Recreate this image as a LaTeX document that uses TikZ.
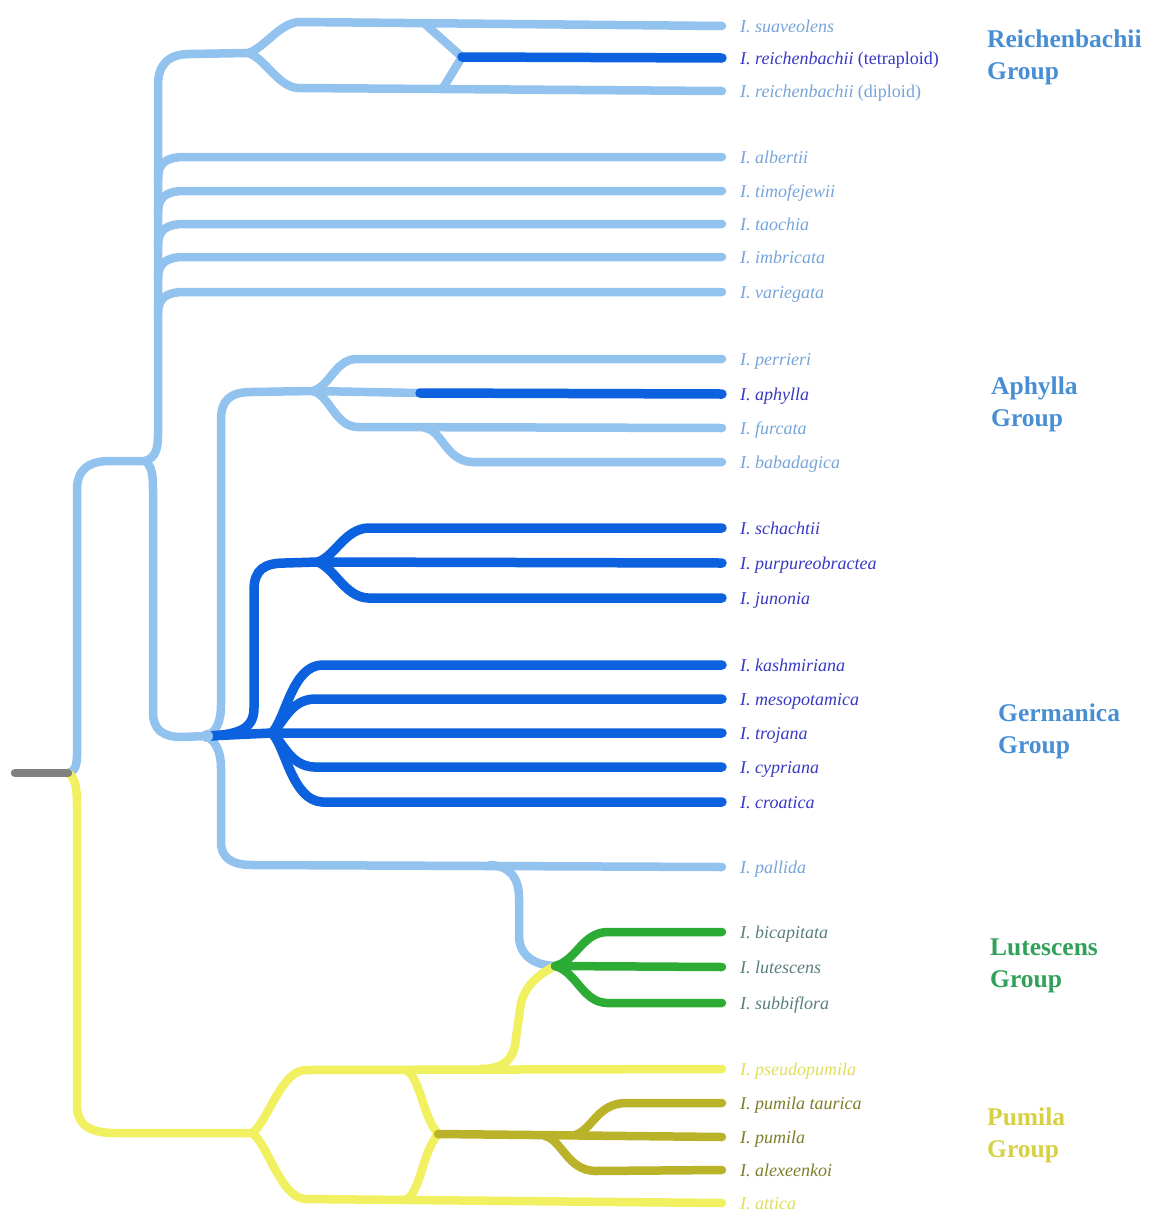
\documentclass[tikz,border=0pt]{standalone}
\usepackage{fontspec}
\setmainfont{Liberation Serif}
\definecolor{lbl}{RGB}{146,194,238}
\definecolor{dbl}{RGB}{12,98,222}
\definecolor{grn}{RGB}{44,172,52}
\definecolor{yel}{RGB}{240,240,96}
\definecolor{olv}{RGB}{186,178,40}
\definecolor{gry}{RGB}{128,128,128}
\definecolor{tlb}{RGB}{118,164,218}
\definecolor{tdb}{RGB}{56,56,196}
\definecolor{tgr}{RGB}{90,125,125}
\definecolor{tye}{RGB}{222,222,90}
\definecolor{tol}{RGB}{125,125,40}
\definecolor{gbl}{RGB}{72,142,212}
\definecolor{ggr}{RGB}{50,160,90}
\definecolor{gye}{RGB}{214,208,66}
\begin{document}
\begin{tikzpicture}[x=1pt,y=-1pt,
  br/.style={line width=8.5pt,line cap=round,line join=round},
  lb/.style={br,draw=lbl},
  db/.style={br,draw=dbl,line width=9.5pt},
  gr/.style={br,draw=grn},
  ye/.style={br,draw=yel},
  ol/.style={br,draw=olv},
  leaf/.style={anchor=base west,inner sep=0pt,font=\fontsize{18}{20}\selectfont\itshape},
  grp/.style={anchor=north west,align=left,inner sep=0pt,font=\fontsize{25.5}{32}\selectfont\bfseries}]
\useasboundingbox (0,0) rectangle (1150,1211);
% junctions
\coordinate (R0) at (15,773);
\coordinate (R) at (68,773);
\coordinate (A) at (145,461);
\coordinate (B) at (248,53);
\coordinate (T) at (462,57);
\coordinate (hu) at (425,24);
\coordinate (hl) at (443,88);
\coordinate (G) at (207,736);
\coordinate (AP) at (313,391);
\coordinate (ad) at (420,393);
\coordinate (bab) at (425,428);
\coordinate (S) at (318,562);
\coordinate (K) at (272,733);
\coordinate (pl) at (490,865);
\coordinate (L) at (555,966);
\coordinate (P1) at (252,1133);
\coordinate (P2) at (438,1134);
\coordinate (pu) at (405,1070);
\coordinate (pd) at (405,1200);
\coordinate (yl) at (480,1069);
\coordinate (tau) at (575,1135);
\coordinate (ale) at (545,1136);
% leaf ends
\foreach \i/\y in {1/26,2/58,3/91,4/157,5/191,6/224,7/257,8/292,9/359,10/394,11/428,12/462,
  13/528,14/563,15/598,16/665,17/699,18/733,19/767,20/802,21/867,22/932,23/967,24/1003,
  25/1069,26/1103,27/1137,28/1170,29/1203}
  \coordinate (e\i) at (722,\y);
% light blue
\draw[lb] (R) .. controls (78,771) and (77,760) .. (77,745) -- (77,490) .. controls (77,470) and (88,461) .. (110,461) -- (A);
\draw[lb] (A) .. controls (155,458) and (158,450) .. (158,435) -- (158,85) .. controls (158,65) and (168,54) .. (190,54) -- (B);
\draw[lb] (B) .. controls (265,48) and (280,22) .. (300,22) -- (e1);
\draw[lb] (B) .. controls (265,58) and (278,87) .. (298,88) -- (e3);
\draw[lb] (hu) -- (T);
\draw[lb] (hl) -- (T);
\foreach \i/\y in {4/157,5/191,6/224,7/257,8/292}
  \draw[lb] (158,\y+22) .. controls (158,\y+6) and (166,\y) .. (185,\y) -- (e\i);
\draw[lb] (A) .. controls (152,466) and (153,475) .. (153,490) -- (153,712) .. controls (153,730) and (163,737) .. (182,737) -- (G);
\draw[lb] (G) .. controls (216,732) and (221,722) .. (221,705) -- (221,420) .. controls (221,400) and (230,392) .. (252,392) -- (AP);
\draw[lb] (AP) .. controls (330,386) and (335,360) .. (356,359) -- (e9);
\draw[lb] (AP) -- (ad);
\draw[lb] (AP) .. controls (330,396) and (335,426) .. (357,427) -- (e11);
\draw[lb] (bab) .. controls (442,430) and (446,461) .. (472,462) -- (e12);
\draw[lb] (G) .. controls (216,742) and (221,752) .. (221,768) -- (221,842) .. controls (221,858) and (232,865) .. (252,865) -- (e21);
\draw[lb] (pl) .. controls (510,866) and (519,878) .. (519,898) -- (519,935) .. controls (519,955) and (533,965) .. (L);
% dark blue
\draw[db] (T) -- (e2);
\draw[db] (ad) -- (e10);
\draw[db] (G) -- (K) -- (e18);
\draw[db] (G) .. controls (240,735) and (254,728) .. (254,708) -- (254,590) .. controls (254,570) and (264,563) .. (285,563) -- (S);
\draw[db] (S) .. controls (335,556) and (345,529) .. (368,528) -- (e13);
\draw[db] (S) -- (e14);
\draw[db] (S) .. controls (335,569) and (345,597) .. (368,598) -- (e15);
\draw[db] (K) .. controls (286,718) and (292,666) .. (322,665) -- (e16);
\draw[db] (K) .. controls (283,724) and (290,700) .. (314,699) -- (e17);
\draw[db] (K) .. controls (283,742) and (290,766) .. (314,767) -- (e19);
\draw[db] (K) .. controls (286,748) and (292,800) .. (322,802) -- (e20);
\fill[lbl] (G) circle (6pt);
% yellow
\draw[ye] (R) .. controls (76,778) and (77,790) .. (77,805) -- (77,1105) .. controls (77,1125) and (90,1133) .. (115,1133) -- (P1);
\draw[ye] (P1) .. controls (268,1122) and (280,1072) .. (305,1070) -- (e25);
\draw[ye] (P1) .. controls (268,1144) and (280,1197) .. (305,1199) -- (e29);
\draw[ye] (pu) .. controls (420,1075) and (422,1115) .. (P2);
\draw[ye] (pd) .. controls (420,1195) and (422,1153) .. (P2);
\draw[ye] (L) .. controls (537,975) and (522,988) .. (520,1010) -- (515,1045) .. controls (512,1062) and (500,1069) .. (yl);
% olive
\draw[ol] (P2) -- (e27);
\draw[ol] (tau) .. controls (592,1130) and (597,1104) .. (625,1103) -- (e26);
\draw[ol] (ale) .. controls (562,1140) and (567,1170) .. (595,1171) -- (e28);
% green
\draw[gr] (L) .. controls (577,960) and (582,933) .. (607,932) -- (e22);
\draw[gr] (L) -- (e23);
\draw[gr] (L) .. controls (577,972) and (582,1002) .. (607,1003) -- (e24);
% root
\draw[br,draw=gry] (R0) -- (R);
% leaf labels
\node[leaf,text=tlb] (n1) at (740,32) {I. suaveolens};
\node[leaf,text=tdb] (n2) at (740,64) {I. reichenbachii {\upshape (tetraploid)}};
\node[leaf,text=tlb] (n3) at (740,97) {I. reichenbachii {\upshape (diploid)}};
\node[leaf,text=tlb] (n4) at (740,163) {I. albertii};
\node[leaf,text=tlb] (n5) at (740,197) {I. timofejewii};
\node[leaf,text=tlb] (n6) at (740,230) {I. taochia};
\node[leaf,text=tlb] (n7) at (740,263) {I. imbricata};
\node[leaf,text=tlb] (n8) at (740,298) {I. variegata};
\node[leaf,text=tlb] (n9) at (740,365) {I. perrieri};
\node[leaf,text=tdb] (n10) at (740,400) {I. aphylla};
\node[leaf,text=tlb] (n11) at (740,434) {I. furcata};
\node[leaf,text=tlb] (n12) at (740,468) {I. babadagica};
\node[leaf,text=tdb] (n13) at (740,534) {I. schachtii};
\node[leaf,text=tdb] (n14) at (740,569) {I. purpureobractea};
\node[leaf,text=tdb] (n15) at (740,604) {I. junonia};
\node[leaf,text=tdb] (n16) at (740,671) {I. kashmiriana};
\node[leaf,text=tdb] (n17) at (740,705) {I. mesopotamica};
\node[leaf,text=tdb] (n18) at (740,739) {I. trojana};
\node[leaf,text=tdb] (n19) at (740,773) {I. cypriana};
\node[leaf,text=tdb] (n20) at (740,808) {I. croatica};
\node[leaf,text=tlb] (n21) at (740,873) {I. pallida};
\node[leaf,text=tgr] (n22) at (740,938) {I. bicapitata};
\node[leaf,text=tgr] (n23) at (740,973) {I. lutescens};
\node[leaf,text=tgr] (n24) at (740,1009) {I. subbiflora};
\node[leaf,text=tye] (n25) at (740,1075) {I. pseudopumila};
\node[leaf,text=tol] (n26) at (740,1109) {I. pumila taurica};
\node[leaf,text=tol] (n27) at (740,1143) {I. pumila};
\node[leaf,text=tol] (n28) at (740,1176) {I. alexeenkoi};
\node[leaf,text=tye] (n29) at (740,1209) {I. attica};
% group labels
\node[grp,text=gbl] (g1) at (987,30) {Reichenbachii\\Group};
\node[grp,text=gbl] (g2) at (991,377) {Aphylla\\Group};
\node[grp,text=gbl] (g3) at (998,704) {Germanica\\Group};
\node[grp,text=ggr] (g4) at (990,939) {Lutescens\\Group};
\node[grp,text=gye] (g5) at (987,1108) {Pumila\\Group};
\end{tikzpicture}
\end{document}
